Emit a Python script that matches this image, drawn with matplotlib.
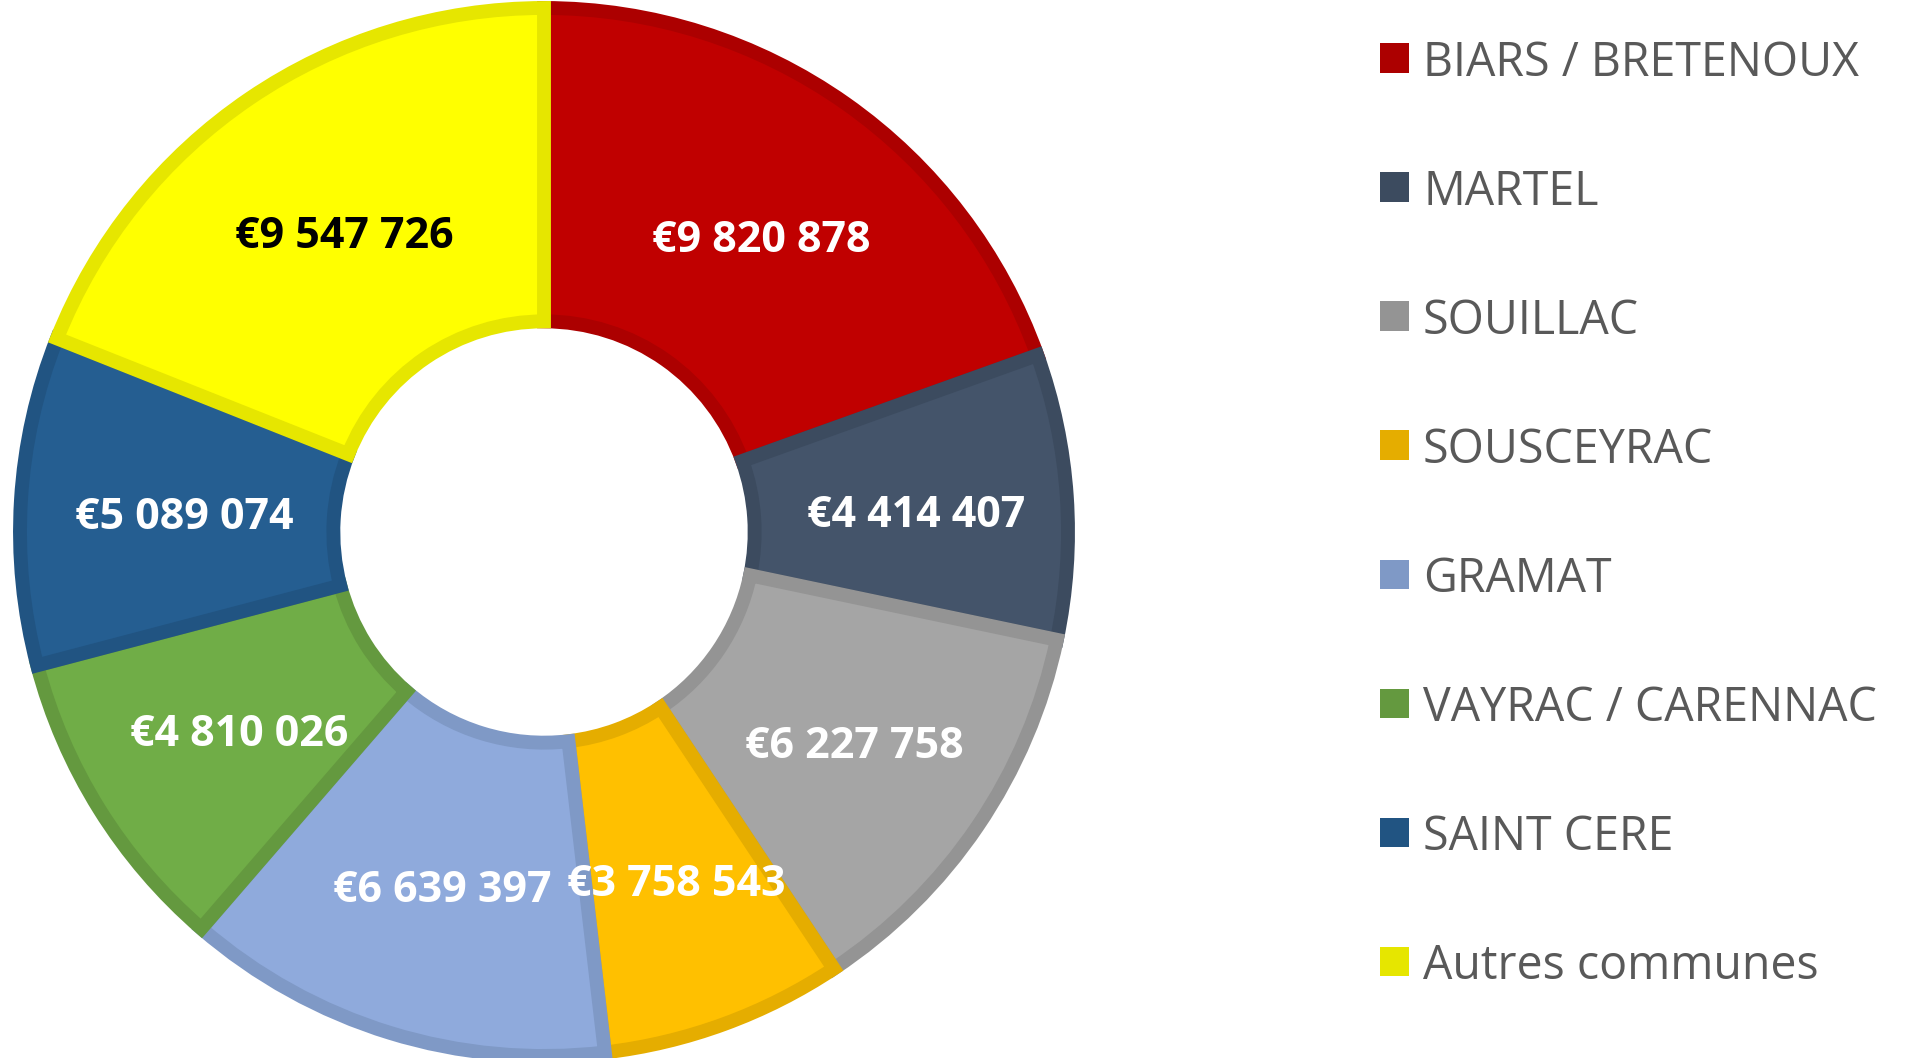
import matplotlib
matplotlib.use("Agg")
import matplotlib.pyplot as plt
import numpy as np
from matplotlib.patches import Rectangle

categories = ["BIARS / BRETENOUX", "MARTEL", "SOUILLAC", "SOUSCEYRAC", "GRAMAT",
              "VAYRAC / CARENNAC", "SAINT CERE", "Autres communes"]
values = [9820878, 4414407, 6227758, 3758543, 6639397, 4810026, 5089074, 9547726]
fill_colors = ["#C00000", "#44546A", "#A5A5A5", "#FFC000", "#8FAADC", "#70AD47", "#255E91", "#FFFF00"]
edge_colors = ["#AC0000", "#3C4B5F", "#949494", "#E5AD00", "#7F99C6", "#64993F", "#215482", "#E6E600"]
label_colors = ["white", "white", "white", "white", "white", "white", "white", "black"]

W, H = 1911, 1058
fig = plt.figure(figsize=(W / 100, H / 100), dpi=100)

cx, cy, R = 544.0, H - 532.0, 524.0
ax = fig.add_axes([(cx - R) / W, (cy - R) / H, 2 * R / W, 2 * R / H])

wedges, _ = ax.pie(values, colors=fill_colors, startangle=90, counterclock=False,
                   radius=1.0, wedgeprops=dict(width=0.598, linewidth=10))
for w, ec in zip(wedges, edge_colors):
    w.set_edgecolor(ec)
    w.set_clip_path(w)
ax.set_xlim(-1, 1)
ax.set_ylim(-1, 1)
ax.set_aspect("equal")
ax.axis("off")

def fmt(v):
    return "€" + f"{v:,}".replace(",", " ")

r_lab = 0.70
for w, v, lc in zip(wedges, values, label_colors):
    ang = np.deg2rad((w.theta1 + w.theta2) / 2)
    ax.text(r_lab * np.cos(ang) + 0.012, r_lab * np.sin(ang) - 0.006, fmt(v), ha="center",
            va="center_baseline", color=lc, fontsize=31, fontweight="bold", family="Open Sans")

# legend
sq = 29
for i, (cat, ec) in enumerate(zip(categories, edge_colors)):
    ycen = 58 + 129 * i
    fig.patches.append(Rectangle(((1380) / W, (H - ycen - sq / 2) / H), sq / W, sq / H,
                                 transform=fig.transFigure, facecolor=ec, edgecolor="none"))
    fig.text(1423 / W, (H - ycen) / H, cat, ha="left", va="center_baseline",
             fontsize=33.5, color="#595959", family="Open Sans")

fig.savefig("out.png", dpi=100)
